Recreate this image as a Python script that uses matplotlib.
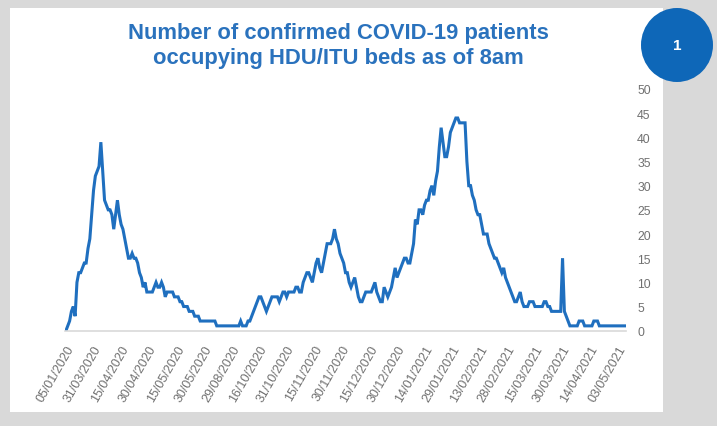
import matplotlib
matplotlib.use('Agg')
import matplotlib.pyplot as plt
from matplotlib.patches import Rectangle, Ellipse

plt.rcParams['font.family'] = ['Liberation Sans', 'DejaVu Sans']

# patients in HDU/ITU beds, one value per reporting day
patients = [
    0, 1, 2, 4, 5, 3, 10, 12, 12, 13, 14, 14, 17, 19, 24,
    29, 32, 33, 34, 39, 33, 27, 26, 25, 25, 24, 21, 24, 27, 24,
    22, 21, 19, 17, 15, 15, 16, 15, 15, 14, 12, 11, 9, 10, 8,
    8, 8, 8, 9, 10, 9, 9, 10, 9, 7, 8, 8, 8, 8, 7,
    7, 7, 6, 6, 5, 5, 5, 4, 4, 4, 3, 3, 3, 2, 2,
    2, 2, 2, 2, 2, 2, 2, 1, 1, 1, 1, 1, 1, 1, 1,
    1, 1, 1, 1, 1, 2, 1, 1, 1, 2, 2, 3, 4, 5, 6,
    7, 7, 6, 5, 4, 5, 6, 7, 7, 7, 7, 6, 7, 8, 8,
    7, 8, 8, 8, 8, 9, 9, 8, 8, 10, 11, 12, 12, 11, 10,
    12, 14, 15, 13, 12, 14, 16, 18, 18, 18, 19, 21, 19, 18, 16,
    15, 14, 12, 12, 10, 9, 10, 11, 9, 7, 6, 6, 7, 8, 8,
    8, 8, 9, 10, 8, 7, 6, 6, 9, 8, 7, 8, 9, 11, 13,
    11, 12, 13, 14, 15, 15, 14, 14, 16, 18, 23, 22, 25, 25, 24,
    26, 27, 27, 29, 30, 28, 31, 33, 38, 42, 39, 36, 36, 38, 41,
    42, 43, 44, 44, 43, 43, 43, 43, 35, 30, 30, 28, 27, 25, 24,
    24, 22, 20, 20, 20, 18, 17, 16, 15, 15, 14, 13, 12, 13, 11,
    10, 9, 8, 7, 6, 6, 7, 8, 6, 5, 5, 5, 6, 6, 6,
    5, 5, 5, 5, 5, 6, 6, 5, 5, 4, 4, 4, 4, 4, 4,
    15, 4, 3, 2, 1, 1, 1, 1, 1, 2, 2, 2, 1, 1, 1,
    1, 1, 2, 2, 2, 1, 1, 1, 1, 1, 1, 1, 1, 1, 1,
    1, 1, 1, 1, 1,
]

# one label every 15 reports
date_labels = [
    '05/01/2020', '31/03/2020', '15/04/2020', '30/04/2020', '15/05/2020',
    '30/05/2020', '29/08/2020', '16/10/2020', '31/10/2020', '15/11/2020',
    '30/11/2020', '15/12/2020', '30/12/2020', '14/01/2021', '29/01/2021',
    '13/02/2021', '28/02/2021', '15/03/2021', '30/03/2021', '14/04/2021',
    '03/05/2021',
]
label_step = 15

W, H = 717, 427
BLUE = '#1f6fbf'
GREY_TXT = '#707070'

fig = plt.figure(figsize=(W / 100, H / 100), dpi=100, facecolor='#d9d9d9')

# white card behind the chart
fig.patches.append(Rectangle((10 / W, 1 - 413 / H), 653 / W, 404 / H,
                             transform=fig.transFigure, facecolor='white',
                             edgecolor='none', zorder=-5))

ax = fig.add_axes([65 / W, 95.3 / H, 561 / W, 241.7 / H])
ax.set_facecolor('none')
x = range(len(patients))
ax.plot(x, patients, color=BLUE, lw=2.2, solid_joinstyle='miter')

ax.set_xlim(-0.5, len(patients) - 0.5)
ax.set_ylim(0, 50)
ax.set_yticks(range(0, 51, 5))
ax.yaxis.tick_right()
ax.tick_params(axis='y', length=0, pad=8, labelsize=8.8, labelcolor=GREY_TXT)
for lbl in ax.get_yticklabels():
    lbl.set_horizontalalignment('left')

ax.set_xticks(range(0, len(date_labels) * label_step, label_step))
ax.set_xticklabels(date_labels, rotation=60, ha='right', va='top',
                   rotation_mode='anchor', fontsize=9, color=GREY_TXT)
ax.tick_params(axis='x', length=0, pad=9)

for side in ['top', 'left', 'right']:
    ax.spines[side].set_visible(False)
ax.spines['bottom'].set_color('#d9d9d9')
ax.spines['bottom'].set_linewidth(1.2)

fig.text(338.5 / W, 1 - 46 / H,
         'Number of confirmed COVID-19 patients\noccupying HDU/ITU beds as of 8am',
         ha='center', va='center', multialignment='center',
         fontsize=15.8, fontweight='bold', color='#2a72bd', linespacing=1.2)

# numbered badge in the corner
fig.patches.append(Ellipse((677 / W, 1 - 46 / H), 72 / W, 74 / H,
                           transform=fig.transFigure, facecolor='#0e67b8',
                           edgecolor='none', zorder=3))
fig.text(677 / W, 1 - 46 / H, '1', ha='center', va='center',
         fontsize=11, fontweight='bold', color='white', zorder=4)

fig.savefig('out.png', dpi=100, facecolor=fig.get_facecolor())
